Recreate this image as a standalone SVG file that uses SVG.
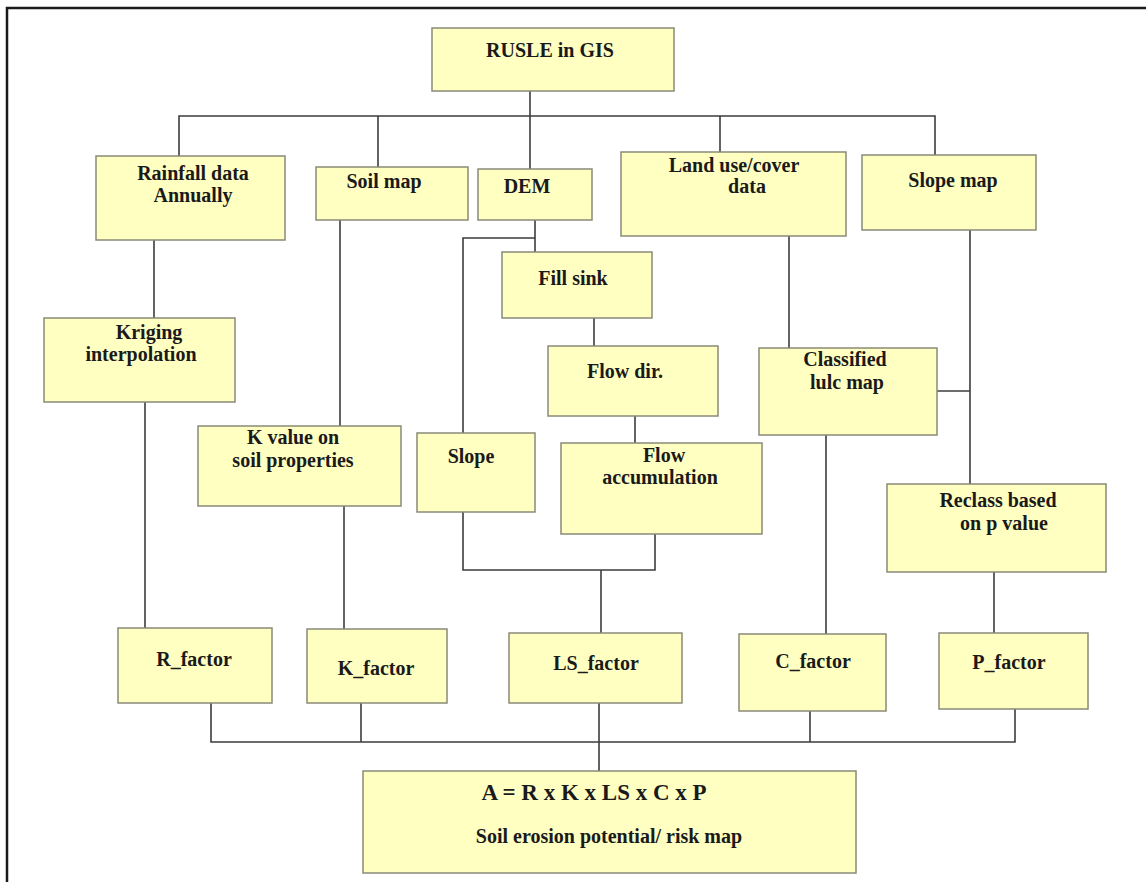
<svg xmlns="http://www.w3.org/2000/svg" width="1146" height="882" viewBox="0 0 1146 882">
<style>
.box{fill:#FFFFC2;stroke:#8a8a78;stroke-width:1.5}
.t{font-family:"Liberation Serif","Times New Roman",serif;font-weight:bold;font-size:20px;fill:#1a1a1a;text-anchor:middle}
.big{font-size:23px}
.c{fill:none;stroke:#3c3c3c;stroke-width:1.6}
.frame{fill:none;stroke:#1a1a1a;stroke-width:2.5}
</style>
<rect x="0" y="0" width="1146" height="882" fill="#ffffff"/>
<path class="frame" d="M7,882 V8 H1146"/>
<g id="connectors">
<path class="c" d="M179,156 V116 H935 V155"/>
<path class="c" d="M530,91 V169"/>
<path class="c" d="M378,116 V167"/>
<path class="c" d="M720,116 V152"/>
<path class="c" d="M154,240 V318"/>
<path class="c" d="M145,402 V628"/>
<path class="c" d="M340,220 V426"/>
<path class="c" d="M344,506 V629"/>
<path class="c" d="M535,220 V252"/>
<path class="c" d="M535,238 H463 V433"/>
<path class="c" d="M594,318 V346"/>
<path class="c" d="M635,416 V443"/>
<path class="c" d="M463,512 V570 H655 V534"/>
<path class="c" d="M601,570 V633"/>
<path class="c" d="M789,236 V348"/>
<path class="c" d="M970,230 V484"/>
<path class="c" d="M937,391 H970"/>
<path class="c" d="M826,435 V634"/>
<path class="c" d="M994,572 V633"/>
<path class="c" d="M211,703 V742 H1015 V709"/>
<path class="c" d="M361,703 V742"/>
<path class="c" d="M810,711 V742"/>
<path class="c" d="M599,703 V771"/>
</g>
<g id="rusle"><rect class="box" x="432" y="28" width="242" height="63"/><text class="t" x="550" y="57">RUSLE in GIS</text></g>
<g id="rainfall"><rect class="box" x="96" y="156" width="189" height="84"/><text class="t" x="193" y="180">Rainfall data</text><text class="t" x="193" y="202">Annually</text></g>
<g id="soilmap"><rect class="box" x="316" y="167" width="152" height="53"/><text class="t" x="384" y="188">Soil map</text></g>
<g id="dem"><rect class="box" x="478" y="169" width="114" height="51"/><text class="t" x="527" y="193">DEM</text></g>
<g id="landuse"><rect class="box" x="621" y="152" width="225" height="84"/><text class="t" x="734" y="172">Land use/cover</text><text class="t" x="747" y="193">data</text></g>
<g id="slopemap"><rect class="box" x="862" y="155" width="174" height="75"/><text class="t" x="953" y="187">Slope map</text></g>
<g id="fillsink"><rect class="box" x="502" y="252" width="150" height="66"/><text class="t" x="573" y="285">Fill sink</text></g>
<g id="flowdir"><rect class="box" x="548" y="346" width="170" height="70"/><text class="t" x="625" y="378">Flow dir.</text></g>
<g id="slope"><rect class="box" x="417" y="433" width="118" height="79"/><text class="t" x="471" y="463">Slope</text></g>
<g id="flowacc"><rect class="box" x="561" y="443" width="201" height="91"/><text class="t" x="664" y="462">Flow</text><text class="t" x="660" y="484">accumulation</text></g>
<g id="kriging"><rect class="box" x="44" y="318" width="191" height="84"/><text class="t" x="149" y="339">Kriging</text><text class="t" x="141" y="361">interpolation</text></g>
<g id="kvalue"><rect class="box" x="198" y="426" width="203" height="80"/><text class="t" x="293" y="444">K value on</text><text class="t" x="293" y="467">soil properties</text></g>
<g id="classified"><rect class="box" x="759" y="348" width="178" height="87"/><text class="t" x="845" y="366">Classified</text><text class="t" x="847" y="389">lulc map</text></g>
<g id="reclass"><rect class="box" x="887" y="484" width="219" height="88"/><text class="t" x="998" y="507">Reclass based</text><text class="t" x="1004" y="530">on p value</text></g>
<g id="rfactor"><rect class="box" x="118" y="628" width="154" height="75"/><text class="t" x="194" y="666">R_factor</text></g>
<g id="kfactor"><rect class="box" x="307" y="629" width="140" height="74"/><text class="t" x="376" y="675">K_factor</text></g>
<g id="lsfactor"><rect class="box" x="509" y="633" width="173" height="70"/><text class="t" x="596" y="670">LS_factor</text></g>
<g id="cfactor"><rect class="box" x="739" y="634" width="147" height="77"/><text class="t" x="813" y="668">C_factor</text></g>
<g id="pfactor"><rect class="box" x="939" y="633" width="149" height="76"/><text class="t" x="1009" y="669">P_factor</text></g>
<g id="equation"><rect class="box" x="363" y="771" width="493" height="102"/><text class="t big" x="594" y="800">A = R x K x LS x C x P</text><text class="t" x="609" y="843">Soil erosion potential/ risk map</text></g>
</svg>
